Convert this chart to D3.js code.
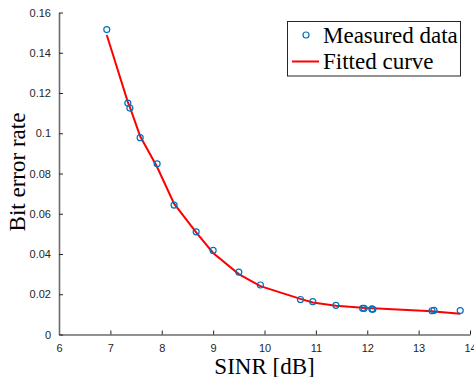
<!DOCTYPE html>
<html>
<head>
<meta charset="utf-8">
<script src="https://cdn.jsdelivr.net/npm/d3@7"></script>
<style>
  body { margin: 0; background: #fff; }
  svg { display: block; }
  .tick text { font-family: "Liberation Sans", Arial, sans-serif; font-size: 11px; fill: #262626; }
  .lbl { font-family: "Liberation Serif", "Times New Roman", serif; font-size: 23px; fill: #000; }
</style>
</head>
<body>
<div id="chart"></div>
<script>
// measured points (SINR dB, BER)
const measuredX = [6.93, 7.34, 7.38, 7.58, 7.91, 8.24, 8.67, 9.0, 9.5, 9.92,
  10.70, 10.94, 11.39, 11.91, 11.94, 12.09, 12.11, 13.26, 13.30, 13.81];
const measuredY = [0.1515, 0.1150, 0.1125, 0.0978, 0.0848, 0.0643, 0.0510, 0.0418, 0.0310, 0.0246,
  0.0174, 0.0163, 0.0145, 0.0130, 0.0130, 0.0127, 0.0125, 0.0118, 0.0120, 0.0119];
// fitted curve, evaluated at the measured x values
const fittedY = [0.1488, 0.1155, 0.1130, 0.0985, 0.0832, 0.0650, 0.0508, 0.0405, 0.0300, 0.0240,
  0.0177, 0.0159, 0.0143, 0.0133, 0.0132, 0.0130, 0.0130, 0.0115, 0.0114, 0.0103];
const xTicks = [6, 7, 8, 9, 10, 11, 12, 13, 14];
const yTicks = [0, 0.02, 0.04, 0.06, 0.08, 0.1, 0.12, 0.14, 0.16];

const width = 474, height = 377;
const margin = { top: 12.5, right: 4, bottom: 42.5, left: 59 };

const svg = d3.select('#chart').append('svg')
    .attr('width', width)
    .attr('height', height);

const x = d3.scaleLinear().domain([6, 14]).range([margin.left, width - margin.right]);
const y = d3.scaleLinear().domain([0, 0.16]).range([height - margin.bottom, margin.top]);

/* Axes (MATLAB style: ticks inward, box off) */
const xAxisD3 = svg.append('g')
    .attr('class', 'x-axis')
    .attr('transform', `translate(0,${y(0)})`)
    .call(d3.axisBottom(x).tickValues(xTicks).tickFormat(d3.format('d'))
        .tickSizeInner(-4).tickSizeOuter(0).tickPadding(10));
const yAxisD3 = svg.append('g')
    .attr('class', 'y-axis')
    .attr('transform', `translate(${x(6)},0)`)
    .call(d3.axisLeft(y).tickValues(yTicks).tickFormat(d => d === 0 ? '0' : String(+d.toFixed(2)))
        .tickSizeInner(-4).tickSizeOuter(0).tickPadding(8));

for (let ax of [xAxisD3, yAxisD3]) {
  ax.select('.domain').attr('stroke', '#6b6b6b').attr('stroke-width', 1.6);
  ax.selectAll('.tick line').attr('stroke', '#262626').attr('stroke-width', 1);
}

/* Fitted curve */
const pts = measuredX.map((v, i) => [v, fittedY[i]]);
svg.append('path')
    .datum(pts)
    .attr('fill', 'none')
    .attr('stroke', '#ff0000')
    .attr('stroke-width', 2)
    .attr('d', d3.line().x(d => x(d[0])).y(d => y(d[1])));

/* Measured data */
svg.append('g')
    .selectAll('circle')
    .data(measuredX.map((v, i) => [v, measuredY[i]]))
    .join('circle')
    .attr('cx', d => x(d[0]))
    .attr('cy', d => y(d[1]))
    .attr('r', 3)
    .attr('fill', 'none')
    .attr('stroke', '#0072bd')
    .attr('stroke-width', 1.2);

/* Labels */
svg.append('text')
    .attr('class', 'lbl')
    .attr('x', (x(6) + x(14)) / 2 + 0)
    .attr('y', 374)
    .attr('text-anchor', 'middle')
    .text('SINR [dB]');
svg.append('text')
    .attr('class', 'lbl')
    .attr('transform', `translate(25,${172}) rotate(-90)`)
    .attr('text-anchor', 'middle')
    .text('Bit error rate');

/* Legend */
const legendD3 = svg.append('g').attr('class', 'legend');
legendD3.append('rect')
    .attr('x', 287.5).attr('y', 21.5)
    .attr('width', 173).attr('height', 54.5)
    .attr('fill', '#fff')
    .attr('stroke', '#262626')
    .attr('stroke-width', 1);
legendD3.append('circle')
    .attr('cx', 306).attr('cy', 35)
    .attr('r', 3)
    .attr('fill', 'none')
    .attr('stroke', '#0072bd')
    .attr('stroke-width', 1.2);
legendD3.append('text')
    .attr('class', 'lbl')
    .attr('x', 323).attr('y', 42.5)
    .text('Measured data');
legendD3.append('line')
    .attr('x1', 292).attr('x2', 319)
    .attr('y1', 61.5).attr('y2', 61.5)
    .attr('stroke', '#ff0000')
    .attr('stroke-width', 2);
legendD3.append('text')
    .attr('class', 'lbl')
    .attr('x', 323).attr('y', 68.5)
    .text('Fitted curve');
</script>
</body>
</html>
